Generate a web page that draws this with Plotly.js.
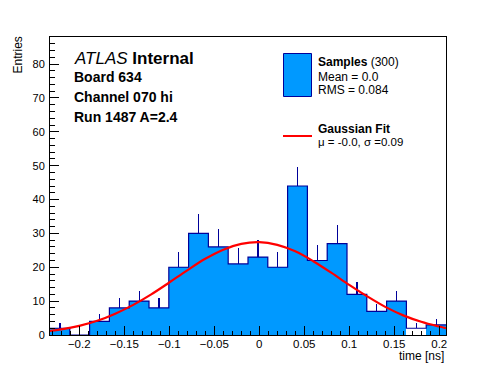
<!DOCTYPE html>
<html>
<head>
<meta charset="utf-8">
<script src="https://cdn.plot.ly/plotly-3.0.1.min.js"></script>
<style>
  html, body { margin: 0; padding: 0; background: #fff; }
  #chart { width: 496px; height: 372px; }
</style>
</head>
<body>
<div id="chart"></div>
<script>
// ---- data ----
const binLow = -0.2325;      // lower edge of first bin (ns)
const binWidth = 0.022;      // bin width (ns)
const counts = [2, 0, 4, 8, 10, 8, 20, 30, 26, 21, 23, 20, 44, 22, 27, 12, 7, 10, 2, 3];
const errorsUp = [1.6, 0, 2.2, 2.85, 3.05, 2.85, 4.6, 5.6, 5.2, 4.6, 5.1, 4.6, 5.7, 4.7, 5.4, 3.6, 2.2, 3.1, 1.65, 1.85];
const fitX = [-0.2325, -0.22, -0.2, -0.18, -0.16, -0.14, -0.12, -0.1, -0.08, -0.06, -0.04, -0.02, 0, 0.02, 0.04, 0.06, 0.08, 0.1, 0.12, 0.14, 0.16, 0.18, 0.2, 0.2075];
const fitY = [1.2, 1.65, 2.7, 4.2, 6.3, 8.9, 12.0, 15.5, 19.1, 22.5, 25.2, 26.9, 27.4, 26.6, 24.7, 21.8, 18.4, 14.8, 11.4, 8.3, 5.8, 3.9, 2.5, 2.05];
const xTickVals = [-0.2, -0.15, -0.1, -0.05, 0, 0.05, 0.1, 0.15, 0.2];
const xTickText = ["\u22120.2", "\u22120.15", "\u22120.1", "\u22120.05", "0", "0.05", "0.1", "0.15", "0.2"];
const yTickVals = [0, 10, 20, 30, 40, 50, 60, 70, 80];
const labelLines = ["<i>ATLAS</i> <b>Internal</b>", "<b>Board 634</b>", "<b>Channel 070 hi</b>", "<b>Run 1487 A=2.4</b>"];
const legendHist = ["<b>Samples</b> (300)", "Mean = 0.0", "RMS = 0.084"];
const legendFit = ["<b>Gaussian Fit</b>", "\u03bc = -0.0, \u03c3 =0.09"];

// ---- derived ----
const nBins = counts.length;
const binHigh = binLow + nBins * binWidth;
const centers = counts.map((_, i) => binLow + (i + 0.5) * binWidth);
const edges = [];
for (let i = 0; i <= nBins; i++) edges.push(binLow + i * binWidth);
const stepY = counts.concat([counts[nBins - 1]]);

const FILL = '#0099ff';
const EDGE = '#000099';
const FONT = 'Liberation Sans, Arial, Helvetica, sans-serif';
const fillColors = counts.map((c, i) => (i === 18 ? '#ffffff' : FILL));

// pixel -> paper helpers (plot area 50..446 x 37..335)
const L = 50, R = 446, T = 37, B = 335;
const PX = p => (p - L) / (R - L);
const PY = p => (B - p) / (B - T);

const traces = [
  {
    type: 'bar', x: centers, y: counts, width: binWidth,
    marker: { color: fillColors, line: { width: 0 } },
    error_y: { type: 'data', symmetric: false, array: errorsUp, arrayminus: counts.map(() => 0),
               color: EDGE, thickness: 1.2, width: 0, visible: true },
    showlegend: false, hoverinfo: 'skip'
  },
  {
    type: 'scatter', mode: 'lines', x: edges, y: stepY,
    line: { shape: 'hv', color: EDGE, width: 1.2 },
    showlegend: false, hoverinfo: 'skip', cliponaxis: true
  },
  {
    type: 'scatter', mode: 'lines', x: fitX, y: fitY,
    line: { shape: 'spline', color: '#ff0000', width: 2.2 },
    showlegend: false, hoverinfo: 'skip'
  }
];

const annotations = [];
const textY = [58.5, 76.5, 97, 116.5];
const textSize = [17, 14, 14, 14];
labelLines.forEach((t, i) => annotations.push({
  xref: 'paper', yref: 'paper', x: PX(72), y: PY(textY[i]), xanchor: 'left', yanchor: 'middle',
  text: t, showarrow: false, font: { family: FONT, size: textSize[i], color: '#000' }
}));
const legY1 = [61.5, 76.5, 90.2];
legendHist.forEach((t, i) => annotations.push({
  xref: 'paper', yref: 'paper', x: PX(316), y: PY(legY1[i]), xanchor: 'left', yanchor: 'middle',
  text: t, showarrow: false, font: { family: FONT, size: 12, color: '#000' }
}));
const legY2 = [129, 142];
legendFit.forEach((t, i) => annotations.push({
  xref: 'paper', yref: 'paper', x: PX(316), y: PY(legY2[i]), xanchor: 'left', yanchor: 'middle',
  text: t, showarrow: false, font: { family: FONT, size: i === 0 ? 12 : 11.5, color: '#000' }
}));
annotations.push({
  xref: 'paper', yref: 'paper', x: PX(446), y: PY(356), xanchor: 'right', yanchor: 'middle',
  text: 'time [ns]', showarrow: false, font: { family: FONT, size: 12, color: '#000' }
});
annotations.push({
  xref: 'paper', yref: 'paper', x: PX(18), y: PY(35), xanchor: 'center', yanchor: 'top',
  text: 'Entries', textangle: -90, showarrow: false, font: { family: FONT, size: 12, color: '#000' }
});

const shapes = [
  { type: 'rect', xref: 'paper', yref: 'paper', x0: PX(283.5), x1: PX(311.5), y0: PY(96.5), y1: PY(53.5),
    fillcolor: FILL, line: { color: EDGE, width: 1 } },
  { type: 'line', xref: 'paper', yref: 'paper', x0: PX(283), x1: PX(312), y0: PY(136), y1: PY(136),
    line: { color: '#ff0000', width: 2 } }
];

const layout = {
  width: 496, height: 372,
  margin: { l: L, r: 496 - R, t: T, b: 372 - B, pad: 0 },
  paper_bgcolor: '#ffffff', plot_bgcolor: '#ffffff',
  showlegend: false, bargap: 0,
  font: { family: FONT, size: 11, color: '#000' },
  xaxis: {
    range: [binLow, binHigh], showgrid: false, zeroline: false,
    tickmode: 'array', tickvals: xTickVals, ticktext: xTickText,
    ticks: 'inside', ticklen: 9, tickwidth: 1, tickcolor: '#000',
    minor: { ticks: 'inside', dtick: 0.01, tick0: 0, ticklen: 4.5, tickcolor: '#000', showgrid: false },
    showline: true, linecolor: '#000', linewidth: 1, mirror: true,
    tickfont: { family: FONT, size: 11.5, color: '#000' },
    ticklabelstandoff: -2
  },
  yaxis: {
    range: [0, 88], showgrid: false, zeroline: false,
    tickmode: 'array', tickvals: yTickVals,
    ticks: 'inside', ticklen: 9, tickwidth: 1, tickcolor: '#000',
    minor: { ticks: 'inside', dtick: 2, tick0: 0, ticklen: 5, tickcolor: '#000', showgrid: false },
    showline: true, linecolor: '#000', linewidth: 1, mirror: true,
    tickfont: { family: FONT, size: 11, color: '#000' },
    ticklabelstandoff: 2
  },
  annotations: annotations,
  shapes: shapes
};

Plotly.newPlot('chart', traces, layout, { displayModeBar: false, staticPlot: true });
</script>
</body>
</html>
